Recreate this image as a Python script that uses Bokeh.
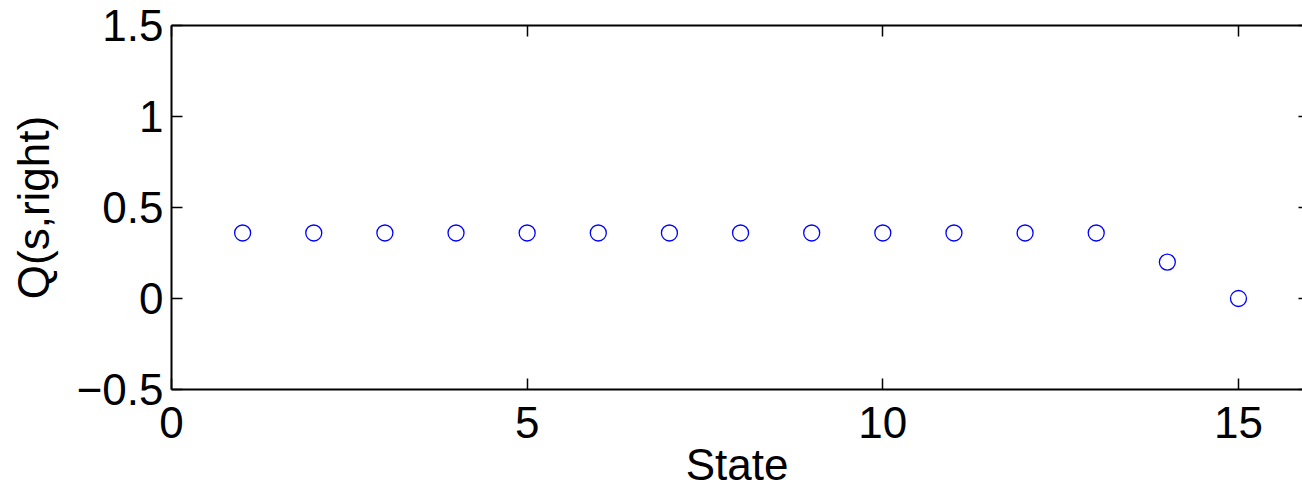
from bokeh.plotting import figure
from bokeh.models import LinearAxis, FixedTicker, Range1d
from bokeh.embed import file_html
from bokeh.resources import INLINE

# Data
states = [1, 2, 3, 4, 5, 6, 7, 8, 9, 10, 11, 12, 13, 14, 15]
q_right = [0.36, 0.36, 0.36, 0.36, 0.36, 0.36, 0.36, 0.36, 0.36, 0.36, 0.36, 0.36, 0.36, 0.2, 0.0]

x_ticks = [0, 5, 10, 15]
y_ticks = [-0.5, 0, 0.5, 1, 1.5]
y_tick_labels = ["\u22120.5", "0", "0.5", "1", "1.5"]

FONT = "Liberation Sans"
FS = "44px"

p = figure(width=1302, height=491, output_backend="svg", toolbar_location=None,
           x_range=Range1d(0, 15.9), y_range=Range1d(-0.5, 1.5),
           min_border_left=171, min_border_top=25, min_border_right=0, min_border_bottom=0,
           background_fill_color="white", border_fill_color="white")
p.outline_line_color = None
p.xgrid.grid_line_color = None
p.ygrid.grid_line_color = None

def style(ax, ticks):
    ax.ticker = FixedTicker(ticks=ticks)
    ax.major_tick_in = 11
    ax.major_tick_out = 0
    ax.minor_tick_line_color = None
    ax.axis_line_width = 2
    ax.axis_line_color = "black"
    ax.major_tick_line_width = 1.5
    ax.major_tick_line_color = "black"
    ax.major_label_text_font = FONT
    ax.major_label_text_font_size = FS
    ax.major_label_text_color = "black"
    ax.axis_label_text_font = FONT
    ax.axis_label_text_font_size = FS
    ax.axis_label_text_font_style = "normal"
    ax.axis_label_text_color = "black"

xa = p.xaxis[0]
style(xa, x_ticks)
xa.major_label_standoff = 17
xa.axis_label = "State"
xa.axis_label_standoff = -1

ya = p.yaxis[0]
style(ya, y_ticks)
ya.major_label_overrides = {t: l for t, l in zip(y_ticks, y_tick_labels)}
ya.major_label_standoff = 8
ya.axis_label = "Q(s,right)"
ya.axis_label_standoff = 16

top = LinearAxis()
style(top, x_ticks)
top.major_label_standoff = 0
top.major_label_overrides = {t: "" for t in x_ticks}
p.add_layout(top, "above")

right = LinearAxis()
style(right, y_ticks)
right.major_label_standoff = 0
right.major_label_overrides = {t: "" for t in y_ticks}
right.axis_line_color = None
right.major_tick_in = 4
p.add_layout(right, "right")

p.scatter(x=states, y=q_right, marker="circle", size=16, fill_color=None,
          line_color="#0000ff", line_width=1.3)

open("out.html", "w").write(file_html(p, INLINE))
